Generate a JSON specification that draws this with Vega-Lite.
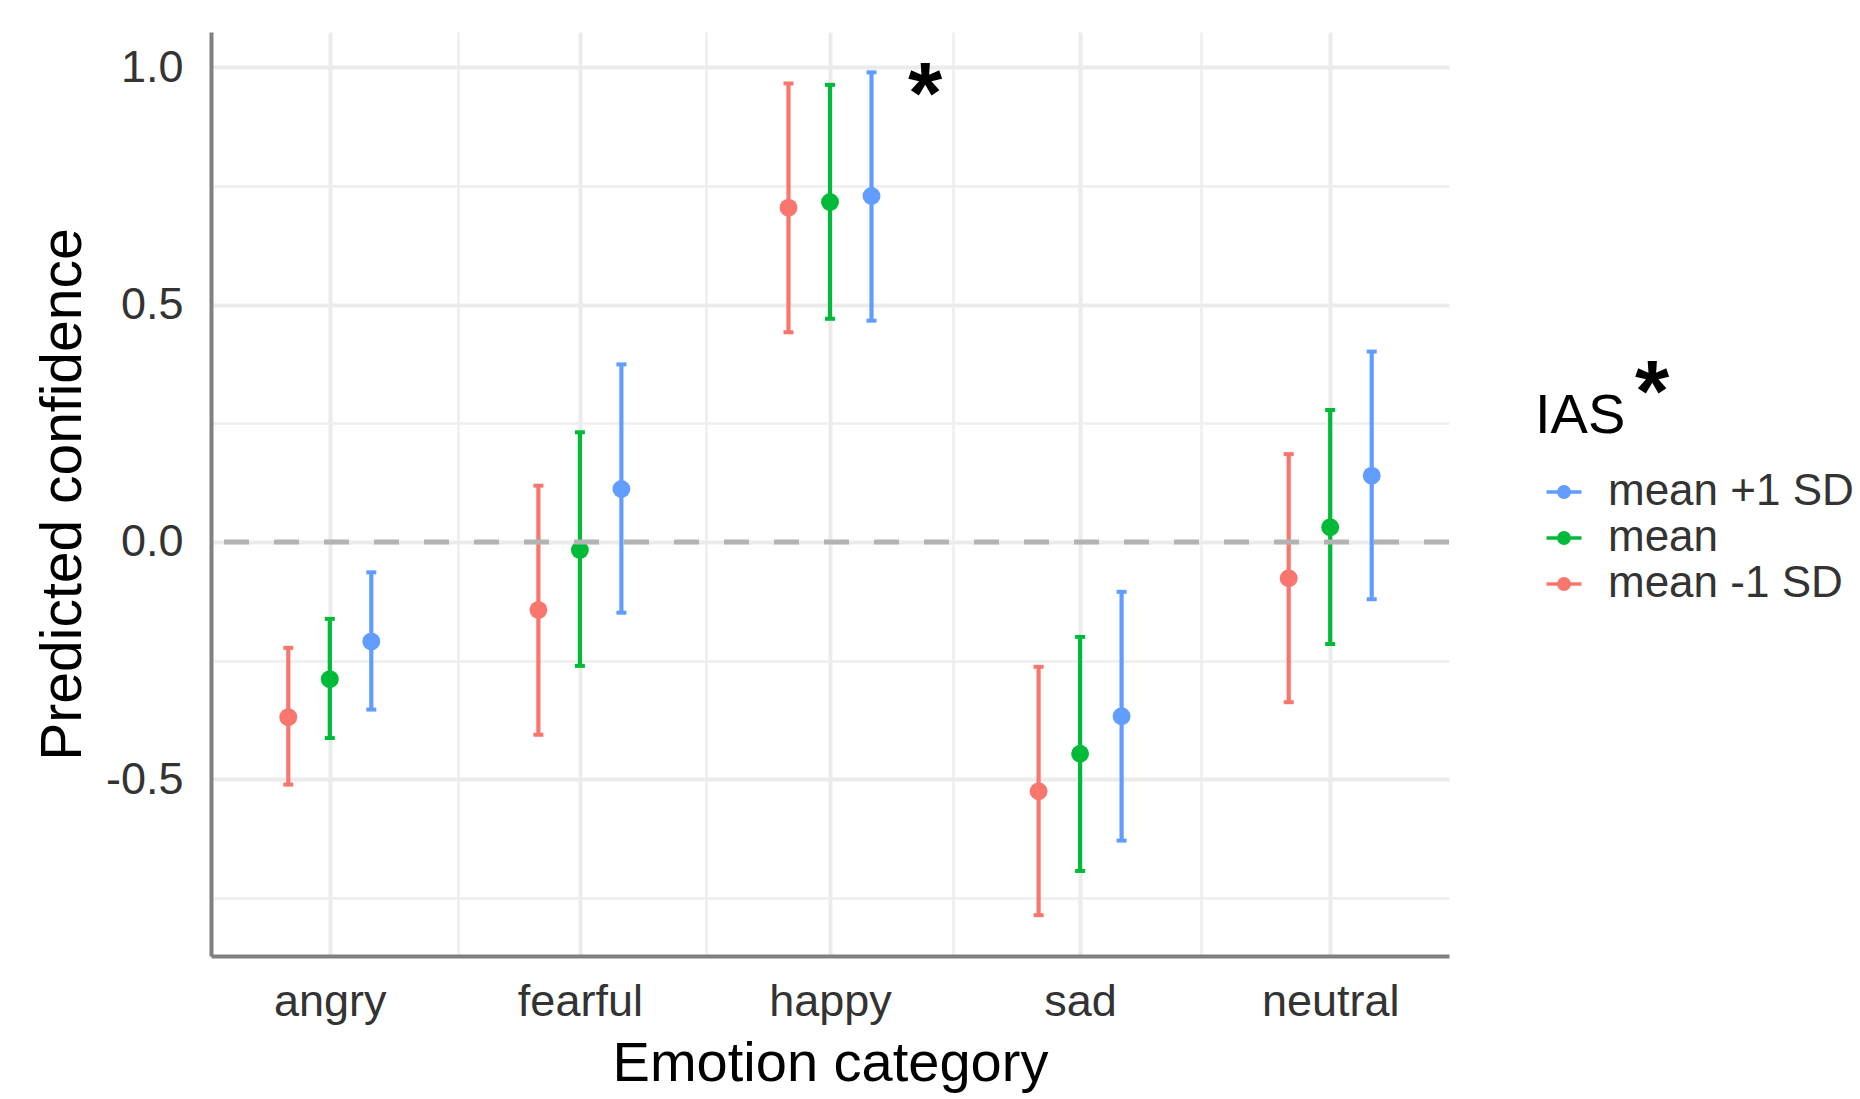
{
  "$schema": "https://vega.github.io/schema/vega-lite/v6.json",
  "width": 1238,
  "height": 924,
  "autosize": {"type": "none"},
  "padding": {"left": 211, "top": 32, "right": 411, "bottom": 143},
  "background": "white",
  "config": {"font": "Liberation Sans", "view": {"stroke": null}},
  "title": {"text": "*", "fontSize": 88, "fontWeight": "bold", "color": "#000000", "anchor": "start", "frame": "group", "orient": "top", "offset": 0, "baseline": "middle", "dx": 1424, "dy": 451},
  "datasets": {
    "pred": [
      {"emotion": "angry", "ias": "mean -1 SD", "est": -0.369, "lo": -0.511, "hi": -0.223},
      {"emotion": "angry", "ias": "mean", "est": -0.289, "lo": -0.413, "hi": -0.162},
      {"emotion": "angry", "ias": "mean +1 SD", "est": -0.2095, "lo": -0.353, "hi": -0.064},
      {"emotion": "fearful", "ias": "mean -1 SD", "est": -0.143, "lo": -0.406, "hi": 0.1185},
      {"emotion": "fearful", "ias": "mean", "est": -0.017, "lo": -0.261, "hi": 0.231},
      {"emotion": "fearful", "ias": "mean +1 SD", "est": 0.1116, "lo": -0.149, "hi": 0.374},
      {"emotion": "happy", "ias": "mean -1 SD", "est": 0.704, "lo": 0.4416, "hi": 0.9656},
      {"emotion": "happy", "ias": "mean", "est": 0.716, "lo": 0.47, "hi": 0.9627},
      {"emotion": "happy", "ias": "mean +1 SD", "est": 0.7285, "lo": 0.466, "hi": 0.989},
      {"emotion": "sad", "ias": "mean -1 SD", "est": -0.525, "lo": -0.786, "hi": -0.263},
      {"emotion": "sad", "ias": "mean", "est": -0.446, "lo": -0.693, "hi": -0.2},
      {"emotion": "sad", "ias": "mean +1 SD", "est": -0.367, "lo": -0.629, "hi": -0.105},
      {"emotion": "neutral", "ias": "mean -1 SD", "est": -0.0765, "lo": -0.3375, "hi": 0.185},
      {"emotion": "neutral", "ias": "mean", "est": 0.031, "lo": -0.215, "hi": 0.278},
      {"emotion": "neutral", "ias": "mean +1 SD", "est": 0.1396, "lo": -0.1206, "hi": 0.401}
    ],
    "ref": [{"y": 0}],
    "ann": [{"emotion": "happy", "y": 0.97, "label": "*"}]
  },
  "layer": [
    {
      "data": {"name": "pred"},
      "mark": {"type": "point", "opacity": 0},
      "encoding": {
        "x": {
          "field": "emotion", "type": "nominal",
          "scale": {"type": "band", "domain": ["angry", "fearful", "happy", "sad", "neutral"], "paddingInner": 0, "paddingOuter": 0},
          "axis": {"orient": "top", "bandPosition": 0, "grid": true, "gridColor": "#eeeeee", "gridWidth": 2.5, "labels": false, "ticks": false, "domain": false, "title": null}
        }
      }
    },
    {
      "data": {"name": "pred"},
      "layer": [
        {
          "mark": {"type": "rule", "strokeWidth": 4.2},
          "encoding": {
            "x": {
              "field": "emotion", "type": "nominal",
              "scale": {"type": "point", "domain": ["angry", "fearful", "happy", "sad", "neutral"], "padding": 0.475},
              "axis": {
                "title": "Emotion category", "labelAngle": 0, "grid": true, "gridColor": "#ebebeb", "gridWidth": 4,
                "ticks": false, "tickSize": 0, "domainColor": "#808080", "domainWidth": 4,
                "labelFontSize": 45, "labelColor": "#333333", "labelPadding": 23,
                "titleFontSize": 56, "titleColor": "#000000", "titleFontWeight": "normal", "titlePadding": 12
              }
            },
            "xOffset": {"field": "ias", "type": "nominal", "scale": {"type": "point", "domain": ["mean -1 SD", "mean", "mean +1 SD"], "range": [-41.5, 41.5], "padding": 0}},
            "y": {
              "field": "lo", "type": "quantitative",
              "scale": {"domain": [-0.872, 1.074], "nice": false, "zero": false},
              "axis": {
                "title": "Predicted confidence",
                "values": [-0.75, -0.5, -0.25, 0, 0.25, 0.5, 0.75, 1],
                "labelExpr": "datum.value % 0.5 === 0 ? (datum.value < 0 ? '-' : '') + format(abs(datum.value), '.1f') : ''",
                "gridColor": {"condition": {"test": "datum.value % 0.5 === 0", "value": "#ebebeb"}, "value": "#eeeeee"},
                "gridWidth": {"condition": {"test": "datum.value % 0.5 === 0", "value": 4}, "value": 2.5},
                "ticks": false, "tickSize": 0, "domainColor": "#808080", "domainWidth": 4,
                "labelFontSize": 45, "labelColor": "#333333", "labelPadding": 28,
                "titleFontSize": 57, "titleColor": "#000000", "titleFontWeight": "normal", "titlePadding": 13
              }
            },
            "y2": {"field": "hi"},
            "color": {"field": "ias", "type": "nominal", "scale": {"domain": ["mean +1 SD", "mean", "mean -1 SD"], "range": ["#619CFF", "#00BA38", "#F8766D"]}}
          }
        },
        {
          "mark": {"type": "point", "filled": true, "opacity": 1, "size": 100, "shape": "M-1,-0.4H1V0.4H-1Z"},
          "encoding": {
            "x": {"field": "emotion", "type": "nominal", "scale": {"type": "point", "domain": ["angry", "fearful", "happy", "sad", "neutral"], "padding": 0.475}},
            "xOffset": {"field": "ias", "type": "nominal", "scale": {"type": "point", "domain": ["mean -1 SD", "mean", "mean +1 SD"], "range": [-41.5, 41.5], "padding": 0}},
            "y": {"field": "lo", "type": "quantitative", "scale": {"domain": [-0.872, 1.074], "nice": false, "zero": false}},
            "color": {"field": "ias", "type": "nominal"}
          }
        },
        {
          "mark": {"type": "point", "filled": true, "opacity": 1, "size": 100, "shape": "M-1,-0.4H1V0.4H-1Z"},
          "encoding": {
            "x": {"field": "emotion", "type": "nominal", "scale": {"type": "point", "domain": ["angry", "fearful", "happy", "sad", "neutral"], "padding": 0.475}},
            "xOffset": {"field": "ias", "type": "nominal", "scale": {"type": "point", "domain": ["mean -1 SD", "mean", "mean +1 SD"], "range": [-41.5, 41.5], "padding": 0}},
            "y": {"field": "hi", "type": "quantitative", "scale": {"domain": [-0.872, 1.074], "nice": false, "zero": false}},
            "color": {"field": "ias", "type": "nominal"}
          }
        },
        {
          "mark": {"type": "point", "filled": true, "opacity": 1, "size": 320, "shape": "circle"},
          "encoding": {
            "x": {"field": "emotion", "type": "nominal", "scale": {"type": "point", "domain": ["angry", "fearful", "happy", "sad", "neutral"], "padding": 0.475}},
            "xOffset": {"field": "ias", "type": "nominal", "scale": {"type": "point", "domain": ["mean -1 SD", "mean", "mean +1 SD"], "range": [-41.5, 41.5], "padding": 0}},
            "y": {"field": "est", "type": "quantitative", "scale": {"domain": [-0.872, 1.074], "nice": false, "zero": false}},
            "color": {
              "field": "ias", "type": "nominal",
              "legend": {
                "orient": "none", "legendX": 1324, "legendY": 357, "padding": 0,
                "title": "IAS", "titleFontSize": 56, "titleColor": "#000000", "titleFontWeight": "normal", "titlePadding": 25,
                "labelFontSize": 44, "labelColor": "#333333", "labelOffset": 22, "labelLimit": 0,
                "symbolType": "M-1,0H1M0.3,0A0.3,0.3 0 1,1 -0.3,0A0.3,0.3 0 1,1 0.3,0Z",
                "symbolSize": 1225, "symbolStrokeWidth": 3.3, "symbolOffset": 7, "rowPadding": 2,
                "encode": {"symbols": {"update": {"stroke": {"scale": "color", "field": "value"}, "fill": {"scale": "color", "field": "value"}, "opacity": {"value": 1}}}}
              }
            }
          }
        },
        {
          "data": {"name": "ref"},
          "mark": {"type": "rule", "color": "#b3b3b3", "strokeWidth": 5, "strokeDash": [25, 25]},
          "encoding": {"y": {"field": "y", "type": "quantitative", "scale": {"domain": [-0.872, 1.074], "nice": false, "zero": false}}}
        },
        {
          "data": {"name": "ann"},
          "mark": {"type": "text", "fontSize": 88, "fontWeight": "bold", "color": "#000000", "dx": 95, "dy": 16, "baseline": "middle"},
          "encoding": {
            "x": {"field": "emotion", "type": "nominal", "scale": {"type": "point", "domain": ["angry", "fearful", "happy", "sad", "neutral"], "padding": 0.475}},
            "y": {"field": "y", "type": "quantitative", "scale": {"domain": [-0.872, 1.074], "nice": false, "zero": false}},
            "text": {"field": "label"}
          }
        }
      ]
    }
  ],
  "resolve": {"scale": {"x": "independent", "xOffset": "independent"}, "axis": {"x": "independent"}}
}
